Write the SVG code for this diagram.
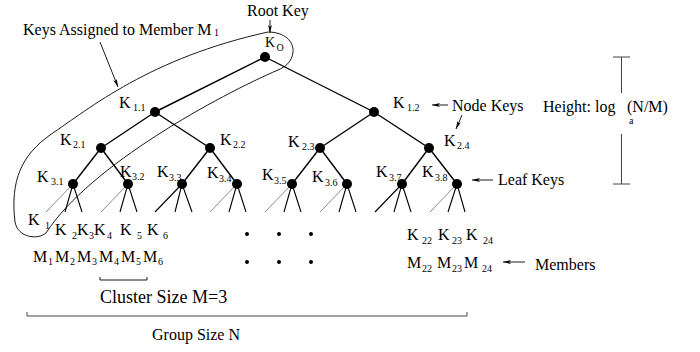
<svg xmlns="http://www.w3.org/2000/svg" width="700" height="352" viewBox="0 0 700 352" font-family="'Liberation Serif', 'DejaVu Serif', serif">
  <style>
    text { font-family: "Liberation Serif", "DejaVu Serif", serif; fill: #000; }
    .lbl { font-size: 16px; }
    .sub { font-size: 10px; }
    .edge { stroke: #000; stroke-width: 1.4; fill: none; }
    .fan { stroke: #000; stroke-width: 1.1; fill: none; }
    .fanthin { stroke: #555; stroke-width: 0.7; fill: none; }
    .thin { stroke: #000; stroke-width: 0.9; fill: none; }
    .rule { stroke: #444; stroke-width: 1; fill: none; }
    .node { fill: #000; }
    .dot { fill: #000; }
  </style>
  <defs>
    <marker id="ah" viewBox="0 0 10 6" refX="10" refY="3" markerWidth="8" markerHeight="5" orient="auto" markerUnits="userSpaceOnUse">
      <path d="M0,0.6 L10,3 L0,5.4 L2.5,3 Z" fill="#000"/>
    </marker>
  </defs>
  <rect width="700" height="352" fill="#fff"/>

  <!-- tree edges -->
  <g id="connectors">
    <line class="edge" x1="265" y1="57" x2="155" y2="112"/>
    <line class="edge" x1="265" y1="57" x2="374" y2="112"/>
    <line class="edge" x1="155" y1="112" x2="101" y2="148"/>
    <line class="edge" x1="155" y1="112" x2="210" y2="148"/>
    <line class="edge" x1="374" y1="112" x2="320" y2="148"/>
    <line class="edge" x1="374" y1="112" x2="429" y2="148"/>
    <line class="edge" x1="101" y1="148" x2="73" y2="184"/>
    <line class="edge" x1="101" y1="148" x2="128" y2="184"/>
    <line class="edge" x1="210" y1="148" x2="182" y2="184"/>
    <line class="edge" x1="210" y1="148" x2="237" y2="184"/>
    <line class="edge" x1="320" y1="148" x2="292" y2="184"/>
    <line class="edge" x1="320" y1="148" x2="347" y2="184"/>
    <line class="edge" x1="429" y1="148" x2="402" y2="184"/>
    <line class="edge" x1="429" y1="148" x2="457" y2="184"/>

    <!-- member fans under leaf keys -->
    <path class="fanthin" d="M73,184 L46,212"/><path class="fan" d="M73,184 L65,212 M73,184 L82,212"/>
    <path class="fanthin" d="M128,184 L101,212"/><path class="fan" d="M128,184 L120,212 M128,184 L137,212"/>
    <path class="fan" d="M182,184 L155,212 M182,184 L175,212 M182,184 L192,212"/>
    <path class="fanthin" d="M237,184 L210,212"/><path class="fan" d="M237,184 L229,212 M237,184 L246,212"/>
    <path class="fanthin" d="M292,184 L265,212"/><path class="fan" d="M292,184 L284,212 M292,184 L301,212"/>
    <path class="fanthin" d="M347,184 L320,212"/><path class="fan" d="M347,184 L339,212 M347,184 L356,212"/>
    <path class="fan" d="M402,184 L375,212 M402,184 L394,212 M402,184 L411,212"/>
    <path class="fanthin" d="M457,184 L430,212"/><path class="fan" d="M457,184 L448,212 M457,184 L465,212"/>
  </g>

  <!-- loop around the keys held by member M1 -->
  <path id="m1-path" class="thin" d="M268,32 C285,32 294,42 293,52 C292,62 285,67 278,70 C220,95 90,165 46,233 C38,240 18,238 15,222 C10,180 22,155 50,135 C90,108 150,58 268,32 Z"/>

  <!-- key nodes -->
  <g id="k0"><circle class="node" cx="265" cy="57" r="5"/><text x="265" y="47" style="font-size:14px">K</text><text class="sub" x="276.5" y="51">O</text></g>
  <g id="k1-1"><circle class="node" cx="155" cy="112" r="5"/><text class="lbl" x="119" y="108">K</text><text class="sub" x="133" y="111">1.1</text></g>
  <g id="k1-2"><circle class="node" cx="374" cy="112" r="5"/><text class="lbl" x="393" y="108">K</text><text class="sub" x="407" y="111">1.2</text></g>
  <g id="k2-1"><circle class="node" cx="101" cy="148" r="5"/><text class="lbl" x="60" y="145">K</text><text class="sub" x="73" y="148">2.1</text></g>
  <g id="k2-2"><circle class="node" cx="210" cy="148" r="5"/><text class="lbl" x="220" y="145">K</text><text class="sub" x="233" y="148">2.2</text></g>
  <g id="k2-3"><circle class="node" cx="320" cy="148" r="5"/><text class="lbl" x="288" y="147">K</text><text class="sub" x="302" y="150">2.3</text></g>
  <g id="k2-4"><circle class="node" cx="429" cy="148" r="5"/><text class="lbl" x="444" y="146">K</text><text class="sub" x="457" y="149">2.4</text></g>
  <g id="k3-1"><circle class="node" cx="73" cy="184" r="5"/><text class="lbl" x="37" y="182">K</text><text class="sub" x="51" y="185">3.1</text></g>
  <g id="k3-2"><circle class="node" cx="128" cy="184" r="5"/><text class="lbl" x="120" y="177">K</text><text class="sub" x="132" y="180">3.2</text></g>
  <g id="k3-3"><circle class="node" cx="182" cy="184" r="5"/><text class="lbl" x="157" y="177">K</text><text class="sub" x="169" y="181">3.3</text></g>
  <g id="k3-4"><circle class="node" cx="237" cy="184" r="5"/><text class="lbl" x="207" y="178">K</text><text class="sub" x="219" y="182">3.4</text></g>
  <g id="k3-5"><circle class="node" cx="292" cy="184" r="5"/><text class="lbl" x="262" y="180">K</text><text class="sub" x="274" y="184">3.5</text></g>
  <g id="k3-6"><circle class="node" cx="347" cy="184" r="5"/><text class="lbl" x="312" y="182">K</text><text class="sub" x="325" y="186">3.6</text></g>
  <g id="k3-7"><circle class="node" cx="402" cy="184" r="5"/><text class="lbl" x="376" y="177">K</text><text class="sub" x="389" y="181">3.7</text></g>
  <g id="k3-8"><circle class="node" cx="457" cy="184" r="5"/><text class="lbl" x="422" y="177">K</text><text class="sub" x="435" y="181">3.8</text></g>

  <!-- individual keys and members -->
  <g id="keys-left">
    <text class="lbl" x="28" y="225">K</text><text class="sub" x="45" y="229">1</text>
    <text class="lbl" x="55" y="235">K</text><text class="sub" x="72" y="239">2</text>
    <text class="lbl" x="77" y="235">K</text><text class="sub" x="89" y="239">3</text>
    <text class="lbl" x="94" y="235">K</text><text class="sub" x="107" y="239">4</text>
    <text class="lbl" x="120" y="235">K</text><text class="sub" x="137" y="239">5</text>
    <text class="lbl" x="147" y="235">K</text><text class="sub" x="163" y="239">6</text>
  </g>
  <g id="members-left">
    <text class="lbl" x="33" y="262">M</text><text class="sub" x="48" y="265">1</text>
    <text class="lbl" x="55" y="262">M</text><text class="sub" x="70" y="265">2</text>
    <text class="lbl" x="77" y="262">M</text><text class="sub" x="92" y="265">3</text>
    <text class="lbl" x="99" y="262">M</text><text class="sub" x="114" y="265">4</text>
    <text class="lbl" x="121" y="262">M</text><text class="sub" x="136" y="265">5</text>
    <text class="lbl" x="143" y="262">M</text><text class="sub" x="158" y="265">6</text>
  </g>
  <g id="ellipsis">
    <circle class="dot" cx="247" cy="234" r="2"/><circle class="dot" cx="279" cy="234" r="2"/><circle class="dot" cx="311" cy="234" r="2"/>
    <circle class="dot" cx="247" cy="262" r="2"/><circle class="dot" cx="279" cy="262" r="2"/><circle class="dot" cx="311" cy="262" r="2"/>
  </g>
  <g id="keys-right">
    <text class="lbl" x="407" y="240">K</text><text class="sub" x="422" y="244">22</text>
    <text class="lbl" x="438" y="240">K</text><text class="sub" x="452" y="244">23</text>
    <text class="lbl" x="466" y="240">K</text><text class="sub" x="483" y="244">24</text>
  </g>
  <g id="members-right">
    <text class="lbl" x="407" y="268">M</text><text class="sub" x="422" y="272">22</text>
    <text class="lbl" x="437" y="268">M</text><text class="sub" x="452" y="272">23</text>
    <text class="lbl" x="464" y="268">M</text><text class="sub" x="482" y="272">24</text>
  </g>

  <!-- annotations -->
  <g id="root-key-note">
    <text class="lbl" x="247" y="16">Root Key</text>
    <line class="thin" x1="270" y1="20" x2="270" y2="33" marker-end="url(#ah)"/>
  </g>
  <g id="m1-note">
    <text class="lbl" x="23" y="35">Keys Assigned to Member M<tspan class="sub" dy="1"> 1</tspan></text>
    <line class="thin" x1="100" y1="42" x2="118" y2="87" marker-end="url(#ah)"/>
  </g>
  <g id="node-keys-note">
    <line class="thin" x1="448" y1="105" x2="432" y2="105" marker-end="url(#ah)"/>
    <text class="lbl" x="452" y="111">Node Keys</text>
    <line class="thin" x1="462" y1="115" x2="456" y2="129" marker-end="url(#ah)"/>
  </g>
  <g id="leaf-keys-note">
    <line class="thin" x1="493" y1="180" x2="472" y2="180" marker-end="url(#ah)"/>
    <text class="lbl" x="498" y="185">Leaf Keys</text>
  </g>
  <g id="members-note">
    <line class="thin" x1="525" y1="262" x2="503" y2="262" marker-end="url(#ah)"/>
    <text class="lbl" x="535" y="270">Members</text>
  </g>
  <g id="height-note">
    <path class="rule" d="M613,57 H630 M621.5,57 V93 M621.5,134 V184 M613,184 H630"/>
    <text class="lbl" x="543" y="112">Height: log</text>
    <text class="sub" x="629" y="124">a</text>
    <text class="lbl" x="627" y="112">(N/M)</text>
  </g>
  <g id="cluster-note">
    <path class="thin" d="M100,277 V280 H147 V277"/>
    <text x="100" y="303" style="font-size:18px">Cluster Size M=3</text>
  </g>
  <g id="group-note">
    <path class="rule" d="M27,312 V316 H467 V312"/>
    <text class="lbl" x="152" y="340">Group Size N</text>
  </g>
</svg>
